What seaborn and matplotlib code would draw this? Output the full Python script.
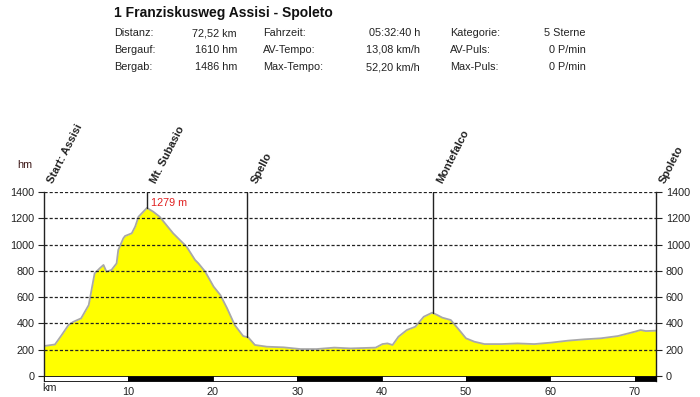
import numpy as np
import pandas as pd
import matplotlib
matplotlib.use("Agg")
import matplotlib.pyplot as plt
import seaborn as sns

# ---- data ----
km = [0.0, 1.3, 2.1, 2.9, 3.5, 4.4, 5.3, 6.0, 6.6, 7.05, 7.4, 8.0, 8.6, 8.8,
      9.4, 9.6, 10.4, 10.8, 11.2, 12.2, 12.95, 13.7, 15.3, 16.9, 17.9, 18.3,
      19.1, 20.1, 20.9, 21.7, 22.6, 23.6, 24.2, 25.0, 26.4, 28.4, 30.4, 32.3,
      34.4, 36.3, 39.3, 40.1, 40.7, 41.3, 42.0, 43.0, 44.0, 45.0, 46.0, 46.6,
      47.2, 48.2, 49.2, 50.0, 51.0, 52.2, 54.2, 56.1, 58.1, 60.1, 62.1, 64.0,
      66.0, 68.0, 70.0, 70.7, 71.3, 72.52]
elev = [228, 240, 312, 388, 413, 439, 540, 781, 819, 845, 794, 807, 857, 959,
        1048, 1065, 1086, 1136, 1212, 1279, 1250, 1212, 1086, 984, 883, 857,
        794, 680, 616, 515, 388, 304, 294, 236, 223, 218, 205, 205,
        216, 210, 216, 243, 248, 236, 299, 350, 375, 451, 482, 464,
        444, 426, 350, 287, 261, 243, 243, 248, 243, 254, 269, 279,
        287, 304, 337, 350, 342, 345]

places = ["Start: Assisi", "Mt. Subasio", "Spello", "Montefalco", "Spoleto"]
place_km = [0.0, 12.2, 24.1, 46.1, 72.52]
place_elev = [228, 1279, 294, 482, 345]

y_ticks = [0, 200, 400, 600, 800, 1000, 1200, 1400]
x_ticks = [10, 20, 30, 40, 50, 60, 70]

title = "1 Franziskusweg Assisi - Spoleto"
stats_labels = [["Distanz:", "Bergauf:", "Bergab:"],
                ["Fahrzeit:", "AV-Tempo:", "Max-Tempo:"],
                ["Kategorie:", "AV-Puls:", "Max-Puls:"]]
stats_values = [["72,52 km", "1610 hm", "1486 hm"],
                ["05:32:40 h", "13,08 km/h", "52,20 km/h"],
                ["5 Sterne", "0 P/min", "0 P/min"]]

df = pd.DataFrame({"km": km, "elev": elev})

sns.set_style("white")
plt.rcParams["font.family"] = ["Liberation Sans", "DejaVu Sans"]

W, H = 700, 397
fig = plt.figure(figsize=(W / 100, H / 100), dpi=100)
x0, x1, ytop, ybot = 44, 656, 192, 381
ax = fig.add_axes([x0 / W, 1 - ybot / H, (x1 - x0) / W, (ybot - ytop) / H])

xmax = 72.52
ymin = -38
ax.set_xlim(0, xmax)
ax.set_ylim(ymin, 1400)

ax.fill_between(df["km"], 0, df["elev"], color="#ffff00", zorder=1, linewidth=0)
sns.lineplot(data=df, x="km", y="elev", ax=ax, color="#a8a8a8", linewidth=1.3,
             zorder=2)

# grid lines
for yv in y_ticks[1:]:
    ax.axhline(yv, color="#222222", linewidth=0.9, linestyle=(0, (2.5, 1.6)),
               zorder=3)

# alternating bar along the bottom
segs = list(range(0, 80, 10))
for i, s in enumerate(segs):
    e = min(s + 10, xmax)
    if s >= xmax:
        break
    ax.fill_between([s, e], ymin, 0, color="black" if i % 2 else "white",
                    edgecolor="black", linewidth=0.6, zorder=4)

# place markers
for name, pk, pe in zip(places, place_km, place_elev):
    if 0 < pk < xmax:
        ax.plot([pk, pk], [pe, 1400], color="#222222", linewidth=1.0, zorder=3)
    ax.annotate(name, xy=(pk, 1400), xytext=(8, 5), textcoords="offset points",
                rotation=63, rotation_mode="anchor", ha="left", va="bottom",
                fontsize=8, fontweight="bold", color="#222222",
                annotation_clip=False)

ax.annotate(f"{place_elev[1]} m", xy=(place_km[1], 1400), xytext=(3, -8),
            textcoords="offset points", ha="left", va="center",
            fontsize=7.8, color="#e02020")

# spines / ticks
for side in ["left", "right"]:
    ax.spines[side].set_color("#222222")
    ax.spines[side].set_linewidth(1.0)
for side in ["top", "bottom"]:
    ax.spines[side].set_visible(False)

ax.set_yticks(y_ticks)
ax.set_yticklabels([str(v) for v in y_ticks])
ax.tick_params(axis="y", which="both", left=True, right=True, labelleft=True,
               labelright=True, length=4, width=0.8, color="#222222",
               labelsize=7.8, labelcolor="#222222", direction="out", pad=3)
ax.set_xticks(x_ticks)
ax.set_xticklabels([str(v) for v in x_ticks])
ax.tick_params(axis="x", bottom=False, labelsize=7.8, labelcolor="#222222",
               pad=0.5)
ax.set_xlabel("")
ax.set_ylabel("")

fig.text(42 / W, 1 - 388 / H, "km", fontsize=7.8, color="#222222",
         ha="left", va="center")
fig.text(17 / W, 1 - 165 / H, "hm", fontsize=7.8, color="#3a1515",
         ha="left", va="center")

# header
fig.text(114 / W, 1 - 13 / H, title, fontsize=10, fontweight="bold",
         color="#111111", ha="left", va="center")
col_left = [114, 263, 450]
col_right = [237, 420, 586]
row_y = [33, 50, 67]
for c in range(3):
    for r in range(3):
        fig.text(col_left[c] / W, 1 - row_y[r] / H, stats_labels[c][r],
                 fontsize=7.8, color="#222222", ha="left", va="center")
        fig.text(col_right[c] / W, 1 - row_y[r] / H, stats_values[c][r],
                 fontsize=7.8, color="#222222", ha="right", va="center")

fig.savefig("out.png", dpi=100, facecolor="white")
